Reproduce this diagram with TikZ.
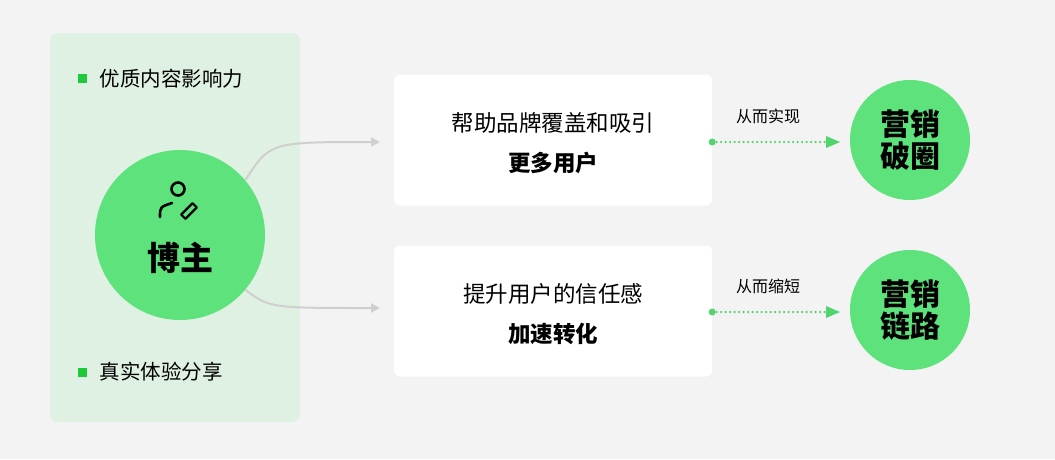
\documentclass[tikz,border=0pt]{standalone}
\usepackage{fontspec}
\setmainfont{Noto Sans CJK SC}
\usetikzlibrary{arrows.meta}
\definecolor{bgray}{HTML}{F3F3F3}
\definecolor{panelg}{HTML}{DFF1E3}
\definecolor{maing}{HTML}{5DE27C}
\definecolor{dotg}{HTML}{4FD46E}
\definecolor{sqg}{HTML}{1FC93A}
\definecolor{arrg}{HTML}{CFCFCF}
\tikzset{
  card/.style={fill=white,rounded corners=6pt,minimum width=318pt,minimum height=131pt},
  bignode/.style={circle,fill=maing,minimum size=120pt,inner sep=0pt,align=center,font=\fontsize{30}{36}\selectfont\bfseries},
  bullet/.style={fill=sqg,minimum size=9pt,inner sep=0pt},
  btext/.style={anchor=west,font=\fontsize{20.5}{24}\selectfont},
  cardtxt/.style={font=\fontsize{22.5}{27}\selectfont},
  cardbold/.style={font=\fontsize{22.5}{27}\selectfont\bfseries},
  lead/.style={draw=dotg,line width=2.5pt,dash pattern=on 0pt off 4.5pt,line cap=round},
  small/.style={font=\fontsize{16}{19}\selectfont},
  flow/.style={draw=arrg,line width=2pt,-{Triangle[length=9pt,width=9pt]}}
}
\begin{document}
\begin{tikzpicture}[x=1pt,y=-1pt]
\fill[bgray] (0,0) rectangle (1055,459);
\useasboundingbox (0,0) rectangle (1055,459);
% left panel
\fill[panelg,rounded corners=8pt] (50,33) rectangle (300,422);
\node[bullet] (b1) at (82,78) {};
\node[btext] (t1) at (96,79) {优质内容影响力};
\node[bullet] (b2) at (82,372) {};
\node[btext] (t2) at (96,372) {真实体验分享};
% blogger
\node[circle,fill=maing,minimum size=170pt,inner sep=0pt] (blog) at (180,235) {};
\node[font=\fontsize{33}{38}\selectfont\bfseries] (blogtxt) at (180,258) {博主};
\draw[line width=2.6pt] (178,189) circle (6.5);
\draw[line width=2.6pt,line cap=round] (160,217) .. controls (160,207) .. (172,203);
\draw[line width=2.2pt,line join=round,rotate around={-45:(189,211)}] (186,203) rectangle (192,219);
% cards
\node[card] (c1) at (553,140) {};
\node[cardtxt] (c1a) at (553,123) {帮助品牌覆盖和吸引};
\node[cardbold] (c1b) at (553,163) {更多用户};
\node[card] (c2) at (553,311) {};
\node[cardtxt] (c2a) at (553,294) {提升用户的信任感};
\node[cardbold] (c2b) at (553,334) {加速转化};
% flow arrows
\draw[flow] (blog.40) .. controls (270,142) .. (380,142);
\draw[flow] (blog.-40) .. controls (270,308) .. (380,308);
% results
\node[bignode] (r1) at (910,140) {营销\\[-4pt]破圈};
\node[bignode] (r2) at (910,310) {营销\\[-4pt]链路};
\coordinate (s1) at (c1.east |- 0,142);
\coordinate (s2) at (c2.east |- 0,312);
\fill[dotg] (s1) circle (3.5);
\fill[dotg] (s2) circle (3.5);
\draw[lead] (s1) -- (828,142);
\draw[lead] (s2) -- (828,312);
\fill[dotg] (840,142) -- (826,136) -- (826,148) -- cycle;
\fill[dotg] (840,312) -- (826,306) -- (826,318) -- cycle;
\node[small] (l1) at (768,116) {从而实现};
\node[small] (l2) at (768,286) {从而缩短};
\end{tikzpicture}
\end{document}
